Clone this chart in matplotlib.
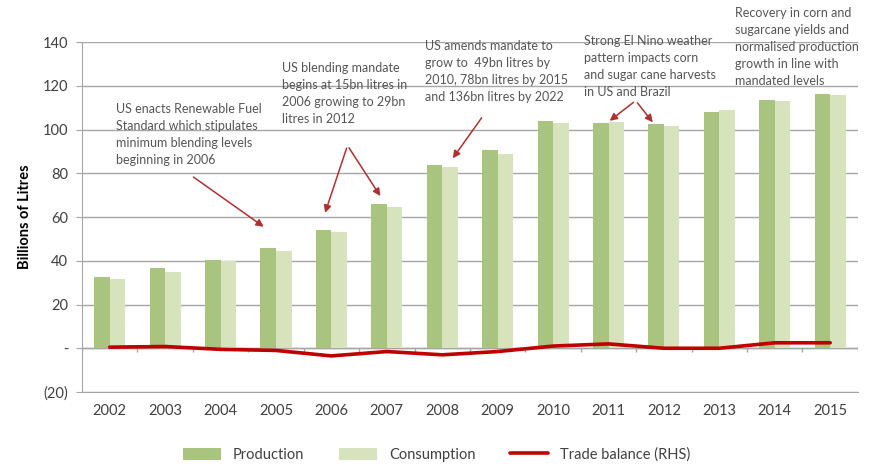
import numpy as np
import matplotlib.pyplot as plt

plt.rcParams['font.family'] = ['Lato', 'DejaVu Sans']

# Data
years = ['2002', '2003', '2004', '2005', '2006', '2007', '2008',
         '2009', '2010', '2011', '2012', '2013', '2014', '2015']
production = [32.4, 36.5, 40.5, 46.0, 54.0, 66.0, 84.0,
              90.5, 104.0, 103.2, 102.3, 107.8, 113.7, 116.4]
consumption = [31.8, 35.0, 40.0, 44.5, 53.0, 64.5, 83.0,
               89.0, 103.0, 103.6, 101.4, 109.0, 113.2, 116.0]
trade_balance = [0.5, 0.8, -0.5, -1.0, -3.5, -1.5, -3.0,
                 -1.5, 1.0, 2.0, 0.0, 0.0, 2.5, 2.5]
yticks = [-20, 0, 20, 40, 60, 80, 100, 120, 140]
ytick_labels = ['(20)', '-', '20', '40', '60', '80', '100', '120', '140']

PROD_COLOR = '#A8C47E'
CONS_COLOR = '#D6E3BC'
LINE_COLOR = '#C00000'
GRID_COLOR = '#A6A6A6'
TEXT_COLOR = '#404040'
NOTE_COLOR = '#555555'
ARROW_COLOR = '#B03030'

fig = plt.figure(figsize=(8.79, 4.67), dpi=100)
ax = fig.add_axes([0.0933, 0.1606, 0.8827, 0.7494])

x = np.arange(len(years))
w = 0.28
b1 = ax.bar(x - w / 2, production, w, color=PROD_COLOR, label='Production', zorder=2)
b2 = ax.bar(x + w / 2, consumption, w, color=CONS_COLOR, label='Consumption', zorder=2)
ln, = ax.plot(x, trade_balance, color=LINE_COLOR, lw=2.6, solid_joinstyle='round',
              solid_capstyle='round', label='Trade balance (RHS)', zorder=3)

ax.set_xlim(-0.5, len(years) - 0.5)
ax.set_ylim(-20, 140)
ax.set_yticks(yticks)
ax.set_yticklabels(ytick_labels, fontsize=10.5, color=TEXT_COLOR)
ax.set_xticks(x)
ax.set_xticklabels(years, fontsize=10.5, color=TEXT_COLOR)
ax.tick_params(axis='x', length=0, pad=9)
ax.tick_params(axis='y', length=4, color=GRID_COLOR, pad=6)
ax.yaxis.grid(True, color=GRID_COLOR, lw=1)
ax.set_axisbelow(True)
for side in ['top', 'right']:
    ax.spines[side].set_visible(False)
ax.spines['left'].set_color(GRID_COLOR)
ax.spines['bottom'].set_color(GRID_COLOR)

# category axis crossing at zero, with tick marks between categories
ax.axhline(0, color=GRID_COLOR, lw=1, zorder=1)
ax.vlines(np.arange(len(years) + 1) - 0.5, -1.6, 0, color=GRID_COLOR, lw=1, zorder=1)

ax.set_ylabel('Billions of Litres', fontsize=10.5, fontweight='bold', color='black',
              labelpad=8)

# annotations
tkw = dict(fontsize=9, color=NOTE_COLOR, va='top', ha='left', linespacing=1.5,
           clip_on=False)
akw = dict(arrowstyle='-|>', color=ARROW_COLOR, lw=1.1, mutation_scale=11)

ax.text(0.11, 112, 'US enacts Renewable Fuel\nStandard which stipulates\n'
        'minimum blending levels\nbeginning in 2006', **tkw)
ax.annotate('', xy=(2.82, 54.8), xytext=(1.47, 79), arrowprops=akw)

ax.text(3.10, 131, 'US blending mandate\nbegins at 15bn litres in\n'
        '2006 growing to 29bn\nlitres in 2012', **tkw)
ax.annotate('', xy=(3.87, 60.7), xytext=(4.29, 92.7), arrowprops=akw)
ax.annotate('', xy=(4.91, 68.5), xytext=(4.29, 92.7), arrowprops=akw)

ax.text(5.69, 141, 'US amends mandate to\ngrow to  49bn litres by\n'
        '2010, 78bn litres by 2015\nand 136bn litres by 2022', **tkw)
ax.annotate('', xy=(6.16, 85.8), xytext=(6.74, 106.4), arrowprops=akw)

ax.text(8.56, 143, 'Strong El Nino weather\npattern impacts corn\n'
        'and sugar cane harvests\nin US and Brazil', **tkw)
ax.annotate('', xy=(8.98, 103.2), xytext=(9.49, 113.2), arrowprops=akw)
ax.annotate('', xy=(9.83, 102.3), xytext=(9.49, 113.2), arrowprops=akw)

ax.text(11.28, 156, 'Recovery in corn and\nsugarcane yields and\n'
        'normalised production\ngrowth in line with\nmandated levels', **tkw)

fig.legend(handles=[b1, b2, ln], loc='center', bbox_to_anchor=(0.497, 0.026),
           ncol=3, frameon=False, fontsize=10.5, handlelength=2.6,
           handleheight=0.9, handletextpad=0.8, columnspacing=2.4,
           labelcolor=TEXT_COLOR)

fig.savefig('out.png', dpi=100)
